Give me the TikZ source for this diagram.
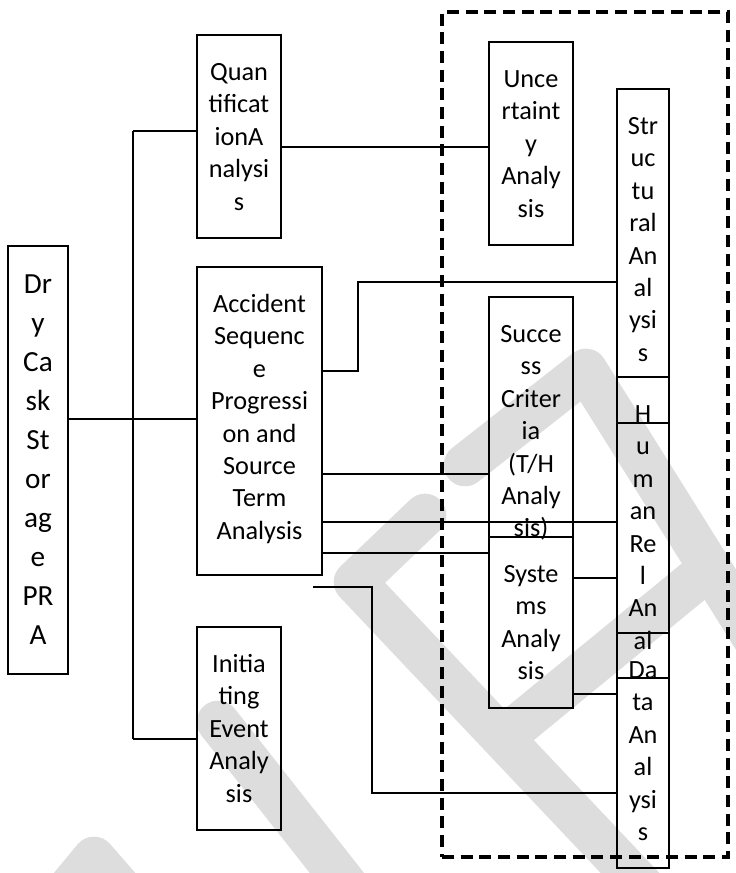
\documentclass[tikz,border=0pt]{standalone}
\usepackage{fontspec}
\setmainfont{Carlito}
\usetikzlibrary{calc,fit}
\definecolor{wm}{RGB}{221,221,221}
% fixed first-line height so every label starts at a known baseline
\newcommand{\firstln}{\rule{0pt}{17pt}}

\begin{document}
\begin{tikzpicture}[x=0.75pt,y=-0.75pt,
  box/.style={draw, line width=1.1pt, inner sep=0pt},
  lbl/.style={inner sep=0pt, align=center, anchor=north,
              font=\fontsize{19.7}{24.3}\selectfont},
  biglbl/.style={lbl, font=\fontsize{21.9}{29.25}\selectfont},
  link/.style={line width=1pt},
  zoneframe/.style={draw, line width=3pt, dash pattern=on 9pt off 5pt, inner sep=0pt},
  wmark/.style={draw=wm, line width=32pt, line cap=round, line join=round}]

\useasboundingbox (0,0) rectangle (735,873);

% faint background watermark strokes
\draw[wmark] (465,465) -- (586,370) -- (780,680);
\draw[wmark] (515,728) -- (705,572);
\draw[wmark] (425,515) -- (355,582) -- (665,910);
\draw[wmark] (218,722) -- (370,915);
\draw[wmark] (55,905) -- (94,858) -- (135,905);

% dashed frame around the supporting analyses
\node[zoneframe, fit={(442,12) (728,857)}] (zone) {};

% boxes
\node[box, fit={(8,246) (68,674)}]    (dry) {};
\node[box, fit={(197,35) (281,238)}]  (quant) {};
\node[box, fit={(197,267) (322,575)}] (acc) {};
\node[box, fit={(197,627) (281,830)}] (init) {};
\node[box, fit={(489,42) (573,245)}]  (unc) {};
\node[box, fit={(489,297) (573,537)}] (succ) {};
\node[box, fit={(489,537) (573,708)}] (sys) {};
\node[box, fit={(617,89) (669,423)}]  (struct) {};
\node[box, fit={(617,377) (669,678)}] (human) {};
\node[box, fit={(617,633) (669,868)}] (data) {};

% labels
\node[biglbl] (dry-t) at ($(dry.north)+(0,25.3)$)
  {\firstln Dr\\y\\Ca\\sk\\St\\or\\ag\\e\\PR\\A};
\node[lbl] (quant-t) at ($(quant.north)+(0,23.3)$)
  {\firstln Quan\\tificat\\ionA\\nalysi\\s};
\node[lbl] (acc-t) at ($(acc.north)+(0,23.3)$)
  {\firstln Accident\\Sequenc\\e\\Progressi\\on and\\Source\\Term\\Analysis};
\node[lbl] (init-t) at ($(init.north)+(0,23.3)$)
  {\firstln Initia\\ting\\Event\\Analy\\sis};
\node[lbl] (unc-t) at ($(unc.north)+(0,23.3)$)
  {\firstln Unce\\rtaint\\y\\Analy\\sis};
\node[lbl] (succ-t) at ($(succ.north)+(0,23.3)$)
  {\firstln Succe\\ss\\Criter\\ia\\(T/H\\Analy\\sis)};
\node[lbl] (sys-t) at ($(sys.north)+(0,23.3)$)
  {\firstln Syste\\ms\\Analy\\sis};
\node[lbl] (struct-t) at ($(struct.north)+(0,23.3)$)
  {\firstln Str\\uc\\tu\\ral\\An\\al\\ysi\\s};
\node[lbl] (human-t) at ($(human.north)+(0,23.3)$)
  {\firstln H\\u\\m\\an\\Re\\l\\An\\al};
\node[lbl] (data-t) at ($(data.north)+(0,23.3)$)
  {\firstln Da\\ta\\An\\al\\ysi\\s};

% routing points
\coordinate (trtop) at (133,131);
\coordinate (trbot) at (133,739);
\coordinate (lv419) at (0,419);
\coordinate (lv147) at (0,147);
\coordinate (j1) at (358,371);
\coordinate (j2) at (358,282);
\coordinate (lv474) at (0,474);
\coordinate (lv522) at (0,522);
\coordinate (lv553) at (0,553);
\coordinate (lv578) at (0,578);
\coordinate (lv694) at (0,694);
\coordinate (loose) at (313,587);
\coordinate (k1) at (372,587);
\coordinate (k2) at (372,793);

% connectors
\draw[link] (dry.east |- lv419) -- (acc.west |- lv419);
\draw[link] (trtop) -- (trbot);
\draw[link] (trtop) -- (quant.west |- trtop);
\draw[link] (trbot) -- (init.west |- trbot);
\draw[link] (quant.east |- lv147) -- (unc.west |- lv147);
\draw[link] (acc.east |- j1) -- (j1) -- (j2) -- (struct.west |- j2);
\draw[link] (acc.east |- lv474) -- (succ.west |- lv474);
\draw[link] (acc.east |- lv522) -- (human.west |- lv522);
\draw[link] (acc.east |- lv553) -- (sys.west |- lv553);
\draw[link] (sys.east |- lv578) -- (human.west |- lv578);
\draw[link] (sys.east |- lv694) -- (data.west |- lv694);
\draw[link] (loose) -- (k1) -- (k2) -- (data.west |- k2);
\end{tikzpicture}
\end{document}
